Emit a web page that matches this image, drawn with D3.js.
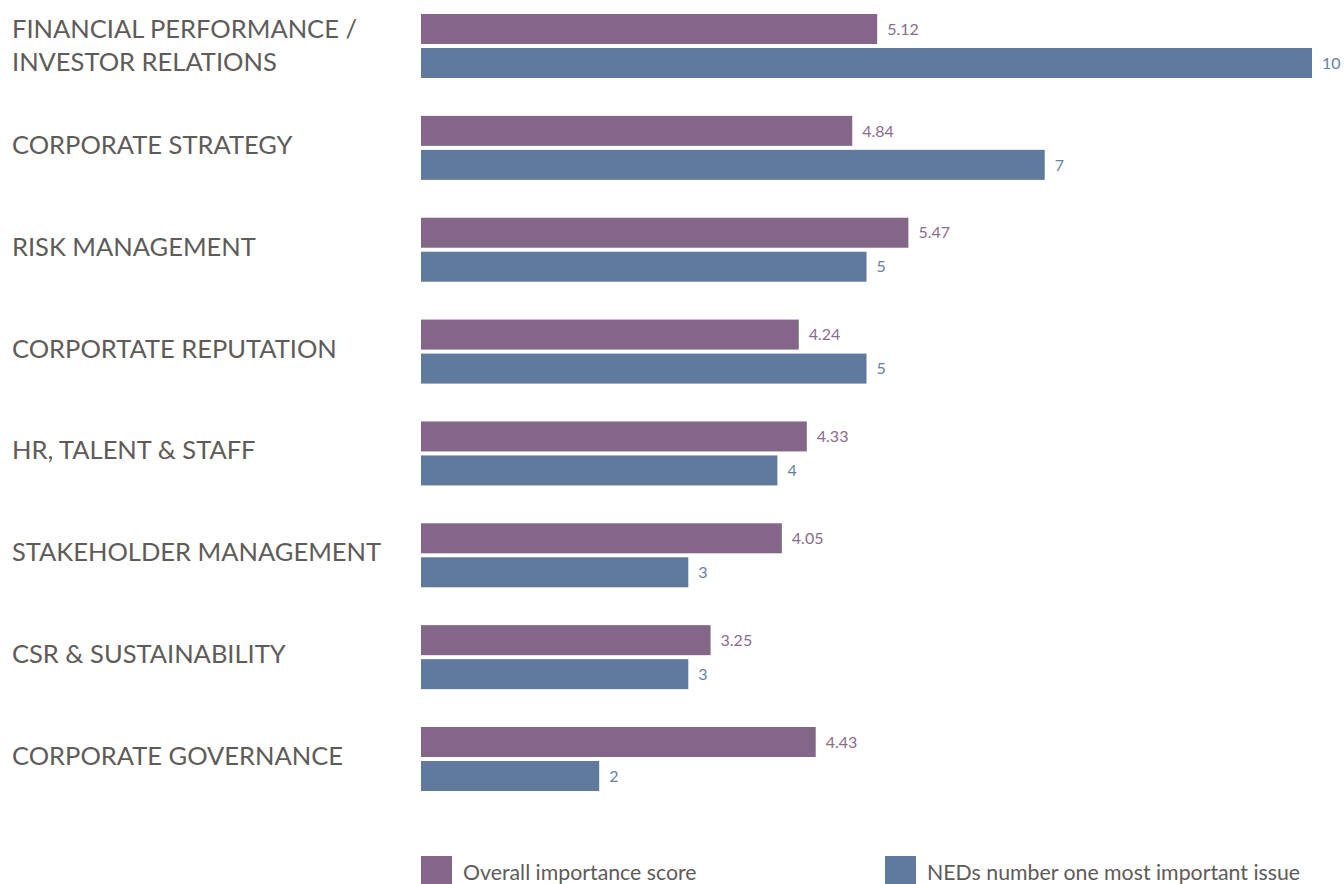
<!DOCTYPE html>
<html><head><meta charset="utf-8">
<script src="https://cdn.jsdelivr.net/npm/d3@7"></script>
<style>body{margin:0;background:#fff;} svg{display:block;font-family:Lato,"Open Sans",sans-serif;}</style>
</head><body>
<svg id="c" width="1344" height="884"></svg>
<script>
const categories = [
  ["FINANCIAL PERFORMANCE /", "INVESTOR RELATIONS"],
  ["CORPORATE STRATEGY"],
  ["RISK MANAGEMENT"],
  ["CORPORTATE REPUTATION"],
  ["HR, TALENT & STAFF"],
  ["STAKEHOLDER MANAGEMENT"],
  ["CSR & SUSTAINABILITY"],
  ["CORPORATE GOVERNANCE"]
];
const overallScore = [5.12, 4.84, 5.47, 4.24, 4.33, 4.05, 3.25, 4.43];
const nedsNumberOne = [10, 7, 5, 5, 4, 3, 3, 2];
const seriesNames = ["Overall importance score", "NEDs number one most important issue"];

const purple = "#846688", blue = "#5f7a9c";
const purpleText = "#8a6c8e", blueText = "#6781a3";
const labelColor = "#5e5b59";

const svg = d3.select("#c");
const x = d3.scaleLinear().domain([0, 10]).range([421, 1312]);
const y = d3.scaleBand().domain(d3.range(categories.length)).range([14, 14 + 8 * 101.86]).padding(0);
const barH = 30, gap = 4;

const g = svg.append("g");
const rows = g.selectAll("g.row").data(categories.map((c,i)=>({c,i,s:overallScore[i],n:nedsNumberOne[i]})))
  .join("g").attr("class","row");

rows.append("rect").attr("x", x(0)).attr("y", d=>y(d.i)).attr("height", barH)
  .attr("width", d=>x(d.s)-x(0)).attr("fill", purple);
rows.append("rect").attr("x", x(0)).attr("y", d=>y(d.i)+barH+gap).attr("height", barH)
  .attr("width", d=>x(d.n)-x(0)).attr("fill", blue);

rows.append("text").attr("x", d=>x(d.s)+10).attr("y", d=>y(d.i)+barH/2+5.7)
  .attr("font-size", 16).attr("fill", purpleText).text(d=>d.s.toFixed(2));
rows.append("text").attr("x", d=>x(d.n)+10).attr("y", d=>y(d.i)+barH+gap+barH/2+5.7)
  .attr("font-size", 16).attr("fill", blueText).text(d=>d.n);

rows.each(function(d){
  const t = d3.select(this).append("text").attr("x", 12).attr("font-size", 25.5).attr("fill", labelColor);
  const center = y(d.i) + barH + gap/2;
  const n = d.c.length;
  if (n === 1) {
    t.append("tspan").attr("x", 12).attr("y", center + 6).text(d.c[0]);
  } else {
    d.c.forEach((line, k) => {
      t.append("tspan").attr("x", 12).attr("y", y(d.i) + 23.5 + k * 33).text(line);
    });
  }
});

const legend = svg.append("g");
const lx = [421, 885];
seriesNames.forEach((s, i) => {
  legend.append("rect").attr("x", lx[i]).attr("y", 856).attr("width", 31).attr("height", 30).attr("fill", i? blue : purple);
  legend.append("text").attr("x", lx[i]+42).attr("y", 880).attr("font-size", 21.3).attr("fill", labelColor).text(s);
});
</script>
</body></html>
